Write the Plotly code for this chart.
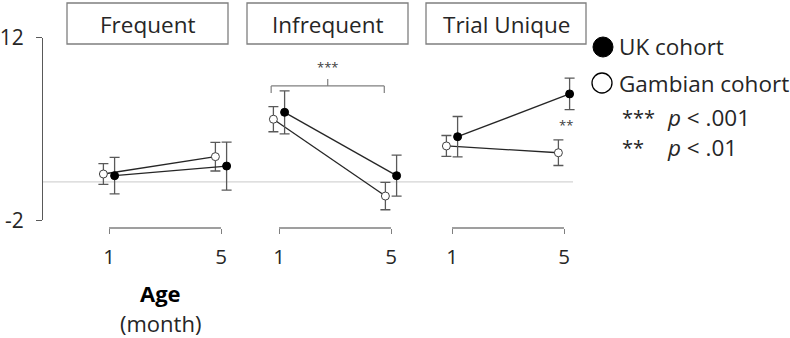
import plotly.graph_objects as go

# ---------------- data ----------------
conditions = ["Frequent", "Infrequent", "Trial Unique"]
ages = [1, 5]
age_labels = ["1", "5"]

uk_means = [[1.42, 2.16], [6.28, 1.42], [4.41, 7.69]]
uk_errs = [[1.40, 1.84], [1.65, 1.57], [1.55, 1.21]]
gambia_means = [[1.55, 2.88], [5.75, -0.14], [3.70, 3.18]]
gambia_errs = [[0.80, 1.10], [0.96, 1.05], [0.80, 0.98]]

y_ticks = [-2, 12]
y_tick_labels = ["-2", "12"]
reference_level = 0.94

legend_labels = ["UK cohort", "Gambian cohort"]
sig_labels = [("***", "<i>p</i> < .001"), ("**", "<i>p</i> < .01")]

# ---------------- layout helpers ----------------
W, H = 790, 338
FONT = "Open Sans"
TXT = "#262626"
AX = "#7f7f7f"
BIG = 22.5


def px(x):
    return x / W


def py(y):
    return 1 - y / H


fig = go.Figure()

x_domains = [(86.6, 243.4), (256.6, 413.4), (429.6, 586.4)]
title_boxes = [(67, 228), (247, 408), (426, 586)]
offset = 0.2

for i, cond in enumerate(conditions):
    xa = "x" if i == 0 else f"x{i+1}"
    fig.add_trace(go.Scatter(
        x=[a - offset for a in ages], y=gambia_means[i], xaxis=xa, yaxis="y",
        mode="lines+markers", showlegend=False,
        line=dict(color=TXT, width=1.3),
        marker=dict(size=8, color="white", line=dict(color="#404040", width=1)),
        error_y=dict(type="data", array=gambia_errs[i], color="#595959",
                     thickness=1.3, width=5),
        cliponaxis=False,
    ))
    fig.add_trace(go.Scatter(
        x=[a + offset for a in ages], y=uk_means[i], xaxis=xa, yaxis="y",
        mode="lines+markers", showlegend=False,
        line=dict(color=TXT, width=1.3),
        marker=dict(size=8, color="black", line=dict(color="black", width=1)),
        error_y=dict(type="data", array=uk_errs[i], color="#595959",
                     thickness=1.3, width=5),
        cliponaxis=False,
    ))

layout = dict(
    width=W, height=H, autosize=False,
    margin=dict(l=0, r=0, t=0, b=0, pad=0, autoexpand=False),
    paper_bgcolor="white", plot_bgcolor="white",
    font=dict(family=FONT, color=TXT),
    yaxis=dict(
        domain=[py(220.3), py(37.7)], range=[-2, 12],
        anchor="free", position=px(42), automargin=False,
        showgrid=False, zeroline=False, showline=True, linecolor="#595959",
        linewidth=1.2, ticks="outside", ticklen=6, tickcolor="#595959",
        tickwidth=1.2, tickvals=y_ticks, ticktext=y_tick_labels,
        tickfont=dict(size=21, color=TXT, family=FONT), ticklabelstandoff=8,
    ),
)

shapes = []
annotations = []
for i, cond in enumerate(conditions):
    key = "xaxis" if i == 0 else f"xaxis{i+1}"
    xref = "x" if i == 0 else f"x{i+1}"
    d0, d1 = x_domains[i]
    layout[key] = dict(
        domain=[px(d0), px(d1)], range=[0.2, 5.8],
        anchor="free", position=py(228), automargin=False,
        showgrid=False, zeroline=False, showline=False,
        ticks="outside", ticklen=5, tickcolor=AX, tickwidth=1.3,
        tickvals=ages, ticktext=age_labels,
        tickfont=dict(size=20.5, color=TXT, family=FONT), ticklabelstandoff=5,
    )
    shapes.append(dict(type="line", xref=xref, yref="paper",
                       x0=ages[0], x1=ages[-1], y0=py(228), y1=py(228),
                       line=dict(color=AX, width=1.3)))
    b0, b1 = title_boxes[i]
    shapes.append(dict(type="rect", xref="paper", yref="paper",
                       x0=px(b0), x1=px(b1), y0=py(44), y1=py(3),
                       line=dict(color=AX, width=1.3), fillcolor="white"))
    annotations.append(dict(text=cond, xref="paper", yref="paper",
                            x=px((b0 + b1) / 2), y=py(24), showarrow=False,
                            xanchor="center", yanchor="middle",
                            font=dict(size=BIG, color=TXT, family=FONT)))

shapes.append(dict(type="line", xref="paper", yref="y",
                   x0=px(43), x1=px(573), y0=reference_level, y1=reference_level,
                   line=dict(color="#d4d4d4", width=1.2), layer="below"))

bx0, bx1, bmid = 0.72, 4.76, 2.74
by, bend, btop = 8.3, 7.76, 8.84
for (x0, y0, x1, y1) in [(bx0, by, bx1, by), (bx0, by, bx0, bend),
                         (bx1, by, bx1, bend), (bmid, by, bmid, btop)]:
    shapes.append(dict(type="line", xref="x2", yref="y", x0=x0, y0=y0,
                       x1=x1, y1=y1, line=dict(color=AX, width=1.2)))
annotations.append(dict(text="***", xref="x2", yref="y", x=bmid, y=9.75,
                        showarrow=False, yanchor="middle",
                        font=dict(size=13, color="#404040")))
annotations.append(dict(text="**", xref="x3", yref="y", x=5.07, y=5.31,
                        showarrow=False, yanchor="middle",
                        font=dict(size=13, color="#404040")))

shapes.append(dict(type="circle", xref="paper", yref="paper",
                   xsizemode="pixel", ysizemode="pixel",
                   xanchor=px(603), yanchor=py(47), x0=-10, x1=10, y0=-10, y1=10,
                   fillcolor="black", line=dict(color="black", width=1)))
shapes.append(dict(type="circle", xref="paper", yref="paper",
                   xsizemode="pixel", ysizemode="pixel",
                   xanchor=px(602), yanchor=py(83), x0=-10, x1=10, y0=-10, y1=10,
                   fillcolor="white", line=dict(color="black", width=1.3)))
for lab, yy in zip(legend_labels, [47, 83]):
    annotations.append(dict(text=lab, xref="paper", yref="paper", x=px(617),
                            y=py(yy), xanchor="left", yanchor="middle",
                            showarrow=False,
                            font=dict(size=BIG, color=TXT, family=FONT)))
for (stars, ptxt), yy in zip(sig_labels, [117, 147]):
    annotations.append(dict(text=stars, xref="paper", yref="paper", x=px(620),
                            y=py(yy), xanchor="left", yanchor="middle",
                            showarrow=False,
                            font=dict(size=20, color=TXT, family=FONT)))
    annotations.append(dict(text=ptxt, xref="paper", yref="paper", x=px(665),
                            y=py(yy), xanchor="left", yanchor="middle",
                            showarrow=False,
                            font=dict(size=BIG, color=TXT, family=FONT)))

annotations.append(dict(text="<b>Age</b>", xref="paper", yref="paper",
                        x=px(160), y=py(293), showarrow=False,
                        xanchor="center", yanchor="middle",
                        font=dict(size=22, color="black", family=FONT)))
annotations.append(dict(text="(month)", xref="paper", yref="paper",
                        x=px(160), y=py(323), showarrow=False,
                        xanchor="center", yanchor="middle",
                        font=dict(size=22, color=TXT, family=FONT)))

layout["shapes"] = shapes
layout["annotations"] = annotations
fig.update_layout(**layout)

fig.write_html("out.html", config={"displayModeBar": False},
               post_script="document.body.style.margin='0';")
